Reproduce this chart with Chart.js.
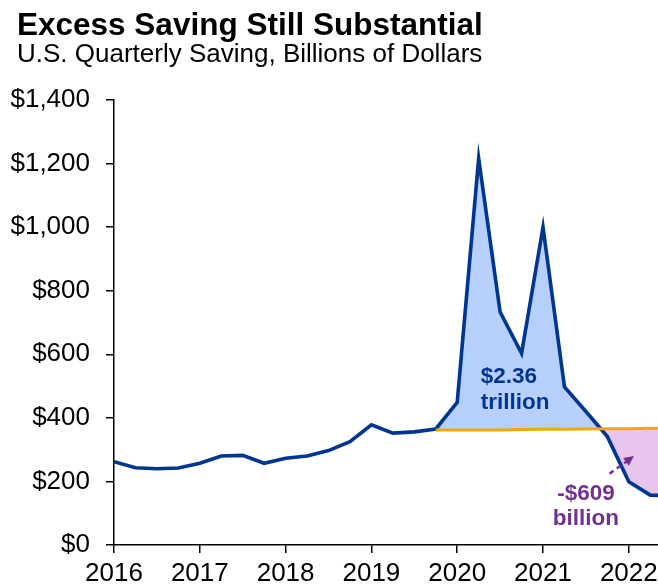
<!DOCTYPE html>
<html>
<head>
<meta charset="utf-8">
<script src="https://cdn.jsdelivr.net/npm/chart.js@4"></script>
<style>
  html, body { margin: 0; padding: 0; background: #fff; }
  #wrap { position: relative; width: 658px; height: 584px; }
</style>
</head>
<body>
<div id="wrap"><canvas id="c" width="658" height="584"></canvas></div>
<script>
// ---- data ----
const quarters = ['2016 Q1','2016 Q2','2016 Q3','2016 Q4','2017 Q1','2017 Q2','2017 Q3','2017 Q4',
  '2018 Q1','2018 Q2','2018 Q3','2018 Q4','2019 Q1','2019 Q2','2019 Q3','2019 Q4',
  '2020 Q1','2020 Q2','2020 Q3','2020 Q4','2021 Q1','2021 Q2','2021 Q3','2021 Q4',
  '2022 Q1','2022 Q2','2022 Q3'];
const saving = [262, 243, 240, 242, 257, 280, 282, 257,
  273, 280, 297, 325, 378, 352, 356, 365,
  449, 1216, 733, 603, 1000, 497, 420, 341,
  199, 157, 155];
const trendStart = '2019 Q4';
const trend = [362, 362, 362, 362, 363, 364, 364, 365, 366, 366, 367, 367];
const yearTicks = [2016, 2017, 2018, 2019, 2020, 2021, 2022];
const yTicks = [0, 200, 400, 600, 800, 1000, 1200, 1400];
const titleText = 'Excess Saving Still Substantial';
const subtitleText = 'U.S. Quarterly Saving, Billions of Dollars';
const excessLabel = ['$2.36', 'trillion'];
const deficitLabel = ['-$609', 'billion'];

// ---- helpers ----
const qx = s => { const [y, q] = s.split(' Q'); return +y + (+q - 1) / 4; };
const savingPts = quarters.map((q, i) => ({ x: qx(q), y: saving[i] }));
const startIdx = quarters.indexOf(trendStart);
const trendPts = trend.map((v, i) => ({ x: qx(quarters[startIdx + i]), y: v }));
const excessPts = savingPts.slice(startIdx);

const NAVY = '#00368F';
const ORANGE = '#EEAA00';
const BLUEFILL = '#B6D0FB';
const PINKFILL = '#E7C5EF';
const PURPLE = '#733090';
const FONT = '"Liberation Sans", Arial, sans-serif';

const overlay = {
  id: 'overlay',
  afterDraw(chart) {
    const ctx = chart.ctx;
    const xs = chart.scales.x, ys = chart.scales.y;
    ctx.save();
    // titles
    ctx.fillStyle = '#000';
    ctx.textAlign = 'left';
    ctx.textBaseline = 'alphabetic';
    ctx.font = 'bold 31.5px ' + FONT;
    ctx.fillText(titleText, 17, 35);
    ctx.font = '26px ' + FONT;
    ctx.fillText(subtitleText, 17, 62);

    // excess label
    ctx.fillStyle = NAVY;
    ctx.font = 'bold 22.5px ' + FONT;
    ctx.textAlign = 'left';
    ctx.fillText(excessLabel[0], xs.getPixelForValue(2020.275), ys.getPixelForValue(510));
    ctx.fillText(excessLabel[1], xs.getPixelForValue(2020.275), ys.getPixelForValue(428));

    // deficit label
    ctx.fillStyle = PURPLE;
    ctx.textAlign = 'center';
    ctx.fillText(deficitLabel[0], xs.getPixelForValue(2021.5), ys.getPixelForValue(142));
    ctx.fillText(deficitLabel[1], xs.getPixelForValue(2021.5), ys.getPixelForValue(63));

    // dashed arrow
    const x1 = xs.getPixelForValue(2021.775), y1 = ys.getPixelForValue(224);
    const x2 = xs.getPixelForValue(2022.06), y2 = ys.getPixelForValue(280);
    const ang = Math.atan2(y2 - y1, x2 - x1);
    const headLen = 11;
    ctx.strokeStyle = PURPLE;
    ctx.lineWidth = 2.5;
    ctx.setLineDash([5, 4]);
    ctx.beginPath();
    ctx.moveTo(x1, y1);
    ctx.lineTo(x2 - Math.cos(ang) * headLen * 0.8, y2 - Math.sin(ang) * headLen * 0.8);
    ctx.stroke();
    ctx.setLineDash([]);
    ctx.fillStyle = PURPLE;
    ctx.beginPath();
    ctx.moveTo(x2, y2);
    ctx.lineTo(x2 - headLen * Math.cos(ang - 0.45), y2 - headLen * Math.sin(ang - 0.45));
    ctx.lineTo(x2 - headLen * Math.cos(ang + 0.45), y2 - headLen * Math.sin(ang + 0.45));
    ctx.closePath();
    ctx.fill();
    ctx.restore();
  }
};

new Chart(document.getElementById('c'), {
  type: 'line',
  data: {
    datasets: [
      { label: 'Trend', data: trendPts, borderColor: ORANGE, borderWidth: 3, pointRadius: 0, fill: false, tension: 0 },
      { label: 'Saving', data: savingPts, borderColor: NAVY, borderWidth: 3.6, pointRadius: 0, fill: false, tension: 0, borderJoinStyle: 'miter' },
      { label: 'Excess', data: excessPts, borderWidth: 0, borderColor: 'rgba(0,0,0,0)', pointRadius: 0, tension: 0,
        fill: { target: 0, above: BLUEFILL, below: PINKFILL } }
    ]
  },
  options: {
    responsive: false,
    animation: false,
    events: [],
    layout: { padding: { top: 100, left: 0, right: 0, bottom: 0 } },
    plugins: { legend: { display: false }, tooltip: { enabled: false }, title: { display: false } },
    scales: {
      x: {
        type: 'linear',
        min: 2016, max: 2022.34,
        afterBuildTicks: s => { s.ticks = yearTicks.map(v => ({ value: v })); },
        afterFit: s => { s.height = 39; s.paddingLeft = 0; s.paddingRight = 0; },
        ticks: { color: '#000', font: { family: FONT, size: 26 }, padding: 5, maxRotation: 0, autoSkip: false,
          callback: v => String(v) },
        grid: { drawOnChartArea: false, drawTicks: true, tickLength: 8, color: '#000', tickColor: '#000', lineWidth: 1.5 },
        border: { color: '#000', width: 1.5 }
      },
      y: {
        min: 0, max: 1400,
        afterBuildTicks: s => { s.ticks = yTicks.map(v => ({ value: v })); },
        afterFit: s => { s.width = 114; },
        ticks: { color: '#000', font: { family: FONT, size: 26 }, padding: 16,
          callback: v => '$' + v.toLocaleString('en-US') },
        grid: { drawOnChartArea: false, drawTicks: true, tickLength: 8, color: '#000', tickColor: '#000', lineWidth: 1.5 },
        border: { color: '#000', width: 1.5 }
      }
    }
  },
  plugins: [overlay]
});
</script>
</body>
</html>
